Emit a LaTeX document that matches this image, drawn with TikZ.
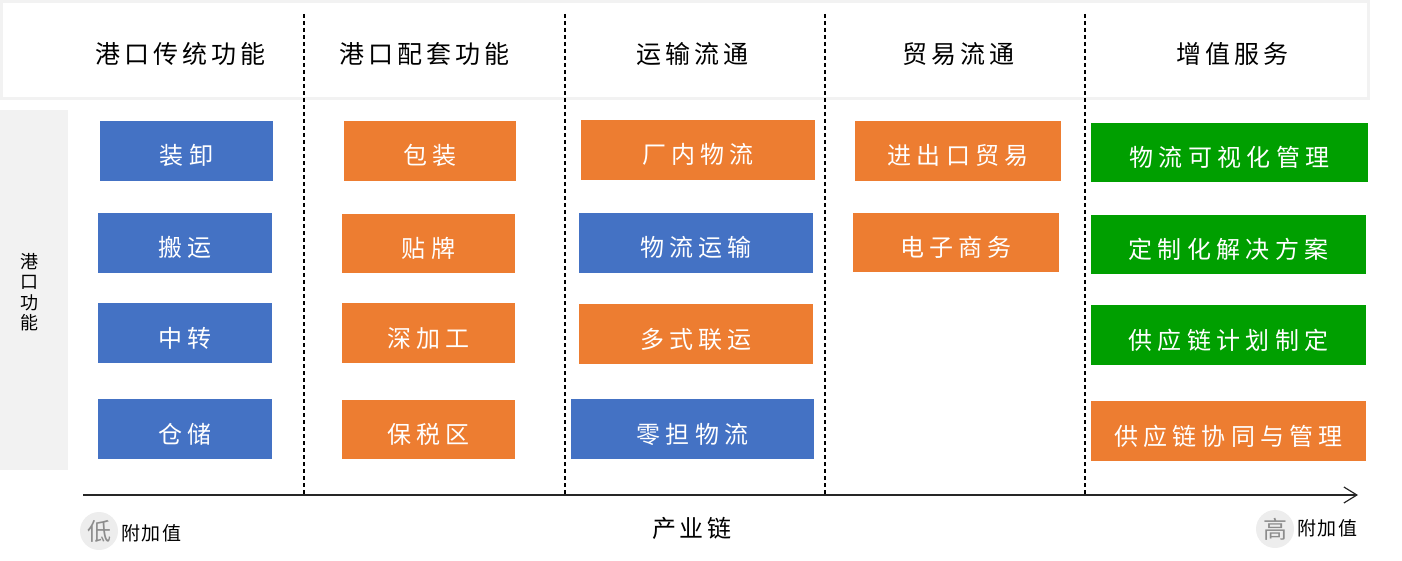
\documentclass[tikz,border=0pt]{standalone}
\usepackage{fontspec}
\setmainfont{Noto Sans CJK SC}
\newfontfamily\hdfont[LetterSpace=16]{Noto Sans CJK SC}
\newfontfamily\bxfont[LetterSpace=22]{Noto Sans CJK SC}
\newfontfamily\smfont[LetterSpace=8]{Noto Sans CJK SC}
\usetikzlibrary{arrows.meta}
\definecolor{cblue}{HTML}{4472C4}
\definecolor{corange}{HTML}{ED7D31}
\definecolor{cgreen}{HTML}{009F00}
\definecolor{lgray}{HTML}{F2F2F2}
\definecolor{cgray}{HTML}{EDEDED}
\definecolor{axis}{HTML}{262626}
\tikzset{
  box/.style={draw=none, inner sep=0pt, text=white, text height=28pt, text depth=0pt, font=\bxfont\fontsize{24}{28}\selectfont},
  hd/.style={inner sep=0pt, font=\hdfont\fontsize{25}{30}\selectfont},
  sep/.style={line width=1.1pt, dash pattern=on 4pt off 3pt, black},
  circ/.style={circle, fill=cgray, minimum size=38pt, inner sep=0pt, text=gray!90, font=\fontsize{24}{28}\selectfont},
  lbl/.style={inner sep=0pt, font=\smfont\fontsize{19}{22}\selectfont}
}
\begin{document}
\begin{tikzpicture}[x=1pt,y=-1pt]
\useasboundingbox (0,0) rectangle (1402,561);
% header band
\draw[lgray, line width=2.5pt, fill=white] (1.5,1.5) rectangle (1368.5,98.5);
% left strip
\fill[lgray] (0,110) rectangle (68,470);
\node[inner sep=0pt, align=center, font=\fontsize{18}{20.5}\selectfont] (side) at (29,292) {港\\口\\功\\能};
% separators
\coordinate (s1t) at (304,14); \coordinate (s1b) at (304,495);
\coordinate (s2t) at (565,14); \coordinate (s2b) at (565,495);
\coordinate (s3t) at (825,14); \coordinate (s3b) at (825,495);
\coordinate (s4t) at (1085,14); \coordinate (s4b) at (1085,495);
\draw[sep] (s1t) -- (s1b);
\draw[sep] (s2t) -- (s2b);
\draw[sep] (s3t) -- (s3b);
\draw[sep] (s4t) -- (s4b);
% headers
\node[hd] (h1) at (180,54) {港口传统功能};
\node[hd] (h2) at (424,54) {港口配套功能};
\node[hd] (h3) at (692,54) {运输流通};
\node[hd] (h4) at (958,54) {贸易流通};
\node[hd] (h5) at (1232,54) {增值服务};
% column 1
\node[box, fill=cblue, minimum width=173pt, minimum height=60pt] (a1) at (186.5,151) {装卸};
\node[box, fill=cblue, minimum width=174pt, minimum height=60pt] (a2) at (185,243) {搬运};
\node[box, fill=cblue, minimum width=174pt, minimum height=60pt] (a3) at (185,333) {中转};
\node[box, fill=cblue, minimum width=174pt, minimum height=60pt] (a4) at (185,429) {仓储};
% column 2
\node[box, fill=corange, minimum width=172pt, minimum height=60pt] (b1) at (430,151) {包装};
\node[box, fill=corange, minimum width=173pt, minimum height=59pt] (b2) at (428.5,243.5) {贴牌};
\node[box, fill=corange, minimum width=173pt, minimum height=60pt] (b3) at (428.5,333) {深加工};
\node[box, fill=corange, minimum width=173pt, minimum height=59pt] (b4) at (428.5,429.5) {保税区};
% column 3
\node[box, fill=corange, minimum width=234pt, minimum height=60pt] (c1) at (698,150) {厂内物流};
\node[box, fill=cblue, minimum width=234pt, minimum height=60pt] (c2) at (696,243) {物流运输};
\node[box, fill=corange, minimum width=234pt, minimum height=60pt] (c3) at (696,334) {多式联运};
\node[box, fill=cblue, minimum width=243pt, minimum height=60pt] (c4) at (692.5,429) {零担物流};
% column 4
\node[box, fill=corange, minimum width=206pt, minimum height=60pt] (d1) at (958,151) {进出口贸易};
\node[box, fill=corange, minimum width=206pt, minimum height=59pt] (d2) at (956,242.5) {电子商务};
% column 5
\node[box, fill=cgreen, minimum width=277pt, minimum height=59pt] (e1) at (1229.5,152.5) {物流可视化管理};
\node[box, fill=cgreen, minimum width=275pt, minimum height=59pt] (e2) at (1228.5,244.5) {定制化解决方案};
\node[box, fill=cgreen, minimum width=275pt, minimum height=60pt] (e3) at (1228.5,335) {供应链计划制定};
\node[box, fill=corange, minimum width=275pt, minimum height=60pt] (e4) at (1228.5,431) {供应链协同与管理};
% axis
\coordinate (ax0) at (83,495);
\coordinate (ax1) at (1358,495);
\draw[axis, line width=1.3pt, -{Straight Barb[length=13pt,width=16pt,line width=1.2pt]}] (ax0) -- (ax1);
\node[inner sep=0pt, font=\hdfont\fontsize{24}{28}\selectfont] (chain) at (692,528) {产业链};
% low / high
\node[circ] (low) at (99,531) {低};
\node[lbl, anchor=west] (lowt) at (121,533) {附加值};
\node[circ] (high) at (1275,529) {高};
\node[lbl, anchor=west] (hight) at (1297,528) {附加值};
\end{tikzpicture}
\end{document}
